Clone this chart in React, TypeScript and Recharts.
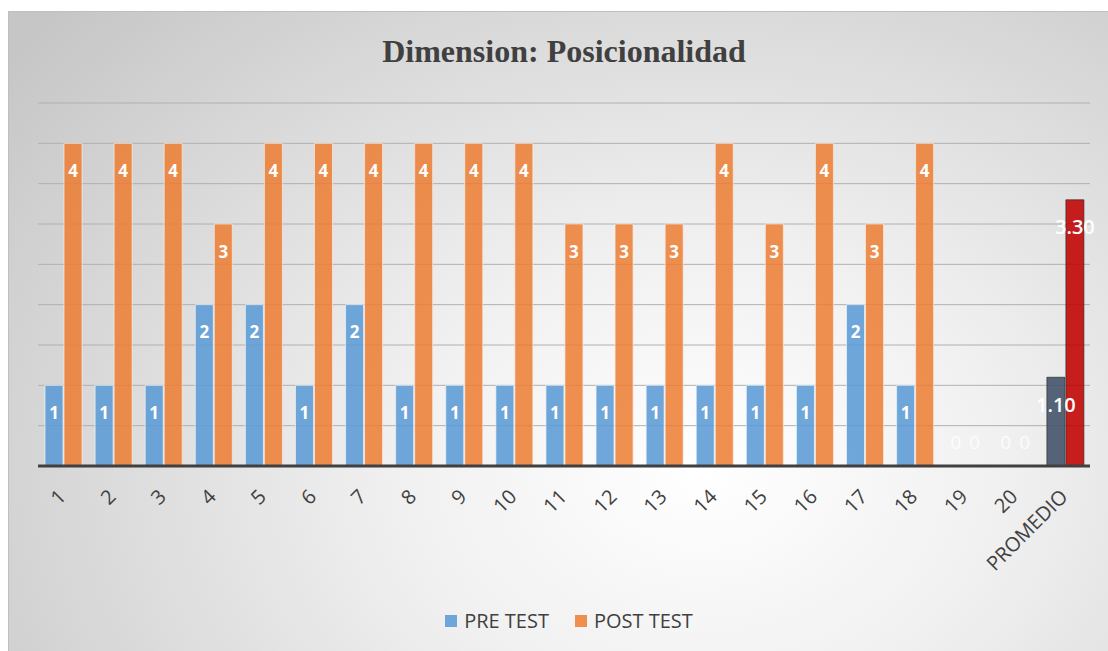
import { BarChart, Bar, XAxis, YAxis, CartesianGrid, Legend, LabelList, Cell } from 'recharts';

const categories = ['1', '2', '3', '4', '5', '6', '7', '8', '9', '10', '11', '12', '13', '14', '15', '16', '17', '18', '19', '20', 'PROMEDIO'];
const preTest = [1, 1, 1, 2, 2, 1, 2, 1, 1, 1, 1, 1, 1, 1, 1, 1, 2, 1, 0, 0, 1.1];
const postTest = [4, 4, 4, 3, 4, 4, 4, 4, 4, 4, 3, 3, 3, 4, 3, 4, 3, 4, 0, 0, 3.3];
const yTicks = [0, 0.5, 1, 1.5, 2, 2.5, 3, 3.5, 4, 4.5];

const lastIdx = categories.length - 1;
const fmt = (v: number, i: number) => (i === lastIdx ? v.toFixed(2) : String(v));

const data = categories.map((name, i) => ({
  name,
  pre: preTest[i],
  post: postTest[i],
  preLabel: fmt(preTest[i], i),
  postLabel: fmt(postTest[i], i),
}));

const FONT = '"Open Sans", sans-serif';

function AngledTick({ x, y, payload }: any) {
  const px = x + 4;
  const py = y + 32;
  return (
    <text x={px} y={py} transform={`rotate(-45, ${px}, ${py})`} textAnchor="end" fill="#404040" fontSize={20} fontFamily={FONT}>
      {payload.value}
    </text>
  );
}

function BarLabel({ x, y, width, value }: any) {
  const cx = x + width / 2;
  if (value === '0') {
    return (
      <text x={cx} y={y - 23} textAnchor="middle" dominantBaseline="central" fill="rgba(255,255,255,0.85)" fontSize={19} fontFamily={FONT}>
        0
      </text>
    );
  }
  const isAvg = String(value).includes('.');
  return (
    <text
      x={cx}
      y={y + 27}
      textAnchor="middle"
      dominantBaseline="central"
      fill="#ffffff"
      fontSize={isAvg ? 20 : 17}
      fontWeight={isAvg ? 600 : 700}
      fontFamily={FONT}
    >
      {value}
    </text>
  );
}

function LegendBox() {
  const items = [
    { label: 'PRE TEST', color: '#6fa6d9' },
    { label: 'POST TEST', color: '#ee8f4d' },
  ];
  return (
    <div style={{ display: 'flex', justifyContent: 'center', alignItems: 'center', paddingLeft: 21, gap: 26 }}>
      {items.map((it) => (
        <div key={it.label} style={{ display: 'flex', alignItems: 'center', gap: 7 }}>
          <span style={{ width: 12, height: 12, background: it.color, display: 'inline-block' }} />
          <span style={{ fontFamily: FONT, fontSize: 20, color: '#404040', lineHeight: '26px' }}>{it.label}</span>
        </div>
      ))}
    </div>
  );
}

export default function App() {
  return (
    <div
      style={{
        position: 'absolute',
        left: 8,
        top: 11,
        width: 1100,
        height: 640,
        boxSizing: 'border-box',
        borderTop: '1px solid #bfbfbf',
        borderLeft: '1px solid #bfbfbf',
        background: 'radial-gradient(ellipse 80% 105% at 63% 72%, #ffffff 0%, #f0f0f0 35%, #c6c6c6 100%)',
      }}
    >
      <div
        style={{
          position: 'absolute',
          left: 5,
          top: 23,
          width: 1100,
          textAlign: 'center',
          fontFamily: '"Liberation Serif", "Times New Roman", serif',
          fontWeight: 700,
          fontSize: 32,
          lineHeight: '32px',
          color: '#404040',
        }}
      >
        Dimension: Posicionalidad
      </div>
      <BarChart
        width={1099}
        height={639}
        data={data}
        margin={{ top: 91, right: 18, left: 29, bottom: 65 }}
        barSize={18}
        barGap={1}
      >
        <CartesianGrid vertical={false} stroke="#b0b0b0" />
        <YAxis hide domain={[0, 4.5]} ticks={yTicks} />
        <XAxis
          dataKey="name"
          height={120}
          interval={0}
          tickSize={0}
          tickMargin={0}
          tickLine={false}
          axisLine={{ stroke: '#404040', strokeWidth: 3 }}
          tick={<AngledTick />}
        />
        <Legend
          verticalAlign="middle"
          align="center"
          wrapperStyle={{ top: 596, left: 0, width: 1099 }}
          content={<LegendBox />}
        />
        <Bar dataKey="pre" name="PRE TEST" minPointSize={1} fill="#5b9bd5" fillOpacity={0.88} stroke="#eef3f8" strokeOpacity={0.7} isAnimationActive={false}>
          {data.map((d, i) => (
            <Cell
              key={d.name}
              fill={i === lastIdx ? '#44546a' : '#5b9bd5'}
              stroke={i === lastIdx ? '#2f2f2f' : '#eef3f8'}
              fillOpacity={i === lastIdx ? 0.9 : 0.88}
            />
          ))}
          <LabelList dataKey="preLabel" content={<BarLabel />} />
        </Bar>
        <Bar dataKey="post" name="POST TEST" minPointSize={1} fill="#ed7d31" fillOpacity={0.85} stroke="#f8ece4" strokeOpacity={0.7} isAnimationActive={false}>
          {data.map((d, i) => (
            <Cell
              key={d.name}
              fill={i === lastIdx ? '#c00000' : '#ed7d31'}
              stroke={i === lastIdx ? '#2f2f2f' : '#f8ece4'}
              fillOpacity={i === lastIdx ? 0.88 : 0.85}
            />
          ))}
          <LabelList dataKey="postLabel" content={<BarLabel />} />
        </Bar>
      </BarChart>
    </div>
  );
}
